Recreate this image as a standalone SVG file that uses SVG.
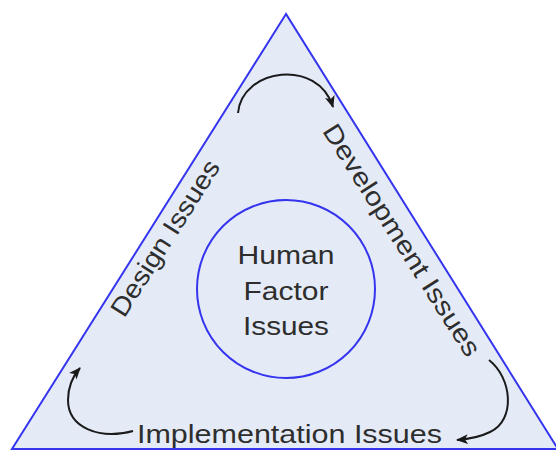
<svg xmlns="http://www.w3.org/2000/svg" width="556" height="451" viewBox="0 0 556 451">
<style>
.shape{fill:#E5EBF6;stroke:#3535F0;stroke-width:2}
.lbl{font-family:"Liberation Sans",Arial,sans-serif;font-size:26px;fill:#2E2E2E;text-anchor:middle}
.arc{fill:none;stroke:#1A1A1A;stroke-width:2}
</style>
<defs>
<marker id="ah" markerUnits="userSpaceOnUse" markerWidth="14" markerHeight="12" refX="11" refY="5" orient="auto">
<path d="M0,0 L12,5 L0,10 L3,5 Z" fill="#1A1A1A"/>
</marker>
</defs>
<rect width="556" height="451" fill="#FFFFFF"/>
<g id="triangle">
<polygon class="shape" points="286,14 12,449 558,449"/>
<text class="lbl" transform="translate(172.6,242.8) rotate(-57.5)" textLength="180" lengthAdjust="spacingAndGlyphs">Design Issues</text>
<text class="lbl" transform="translate(394.4,244.8) rotate(57.5)" textLength="270" lengthAdjust="spacingAndGlyphs">Development Issues</text>
<text class="lbl" x="289.5" y="443" textLength="305" lengthAdjust="spacingAndGlyphs">Implementation Issues</text>
</g>
<g id="human-factor">
<circle class="shape" cx="286" cy="289" r="89"/>
<text class="lbl" x="286" y="264" textLength="97" lengthAdjust="spacingAndGlyphs">Human</text>
<text class="lbl" x="286" y="300" textLength="85" lengthAdjust="spacingAndGlyphs">Factor</text>
<text class="lbl" x="286" y="335" textLength="86" lengthAdjust="spacingAndGlyphs">Issues</text>
</g>
<g id="connectors">
<path class="arc" d="M238,113 C242,68 318,58 333,107" marker-end="url(#ah)"/>
<path class="arc" d="M133,431 C100,440 68,428 68,400 C68,386 73,376 80,368" marker-end="url(#ah)"/>
<path class="arc" d="M489,360 C512,378 516,420 490,432 C480,437 470,439 457,440" marker-end="url(#ah)"/>
</g>
</svg>
